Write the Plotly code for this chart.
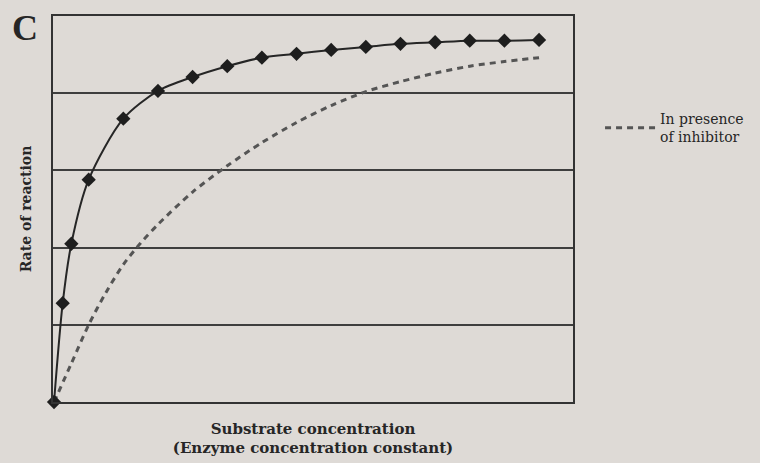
import plotly.graph_objects as go

# Substrate concentration (arbitrary units) and rates
substrate = [0, 0.25, 0.5, 1, 2, 3, 4, 5, 6, 7, 8, 9, 10, 11, 12, 13, 14]
rate = [0, 1.28, 2.05, 2.88, 3.67, 4.03, 4.21, 4.35, 4.46, 4.51, 4.56, 4.60, 4.64, 4.66, 4.68, 4.68, 4.69]

substrate_inh = [0, 0.5, 1, 1.5, 2, 2.5, 3, 4, 5, 6, 7, 8, 9, 10, 11, 12, 13, 14]
rate_inh = [0, 0.50, 1.0, 1.42, 1.78, 2.06, 2.30, 2.72, 3.06, 3.36, 3.62, 3.84, 4.02, 4.15, 4.26, 4.35, 4.41, 4.46]

gridlines = [1, 2, 3, 4]

BG = "#dedad6"
INK = "#262626"
SERIF = "DejaVu Serif, Liberation Serif, serif"

fig = go.Figure()

fig.add_trace(go.Scatter(
    x=substrate_inh, y=rate_inh, mode="lines",
    line=dict(color="#555555", width=3, dash="6px,5px", shape="spline", smoothing=0.8),
    name="In presence<br>of inhibitor", showlegend=True, cliponaxis=False,
))

fig.add_trace(go.Scatter(
    x=substrate, y=rate, mode="lines+markers",
    line=dict(color=INK, width=2, shape="spline", smoothing=0.8),
    marker=dict(symbol="diamond", size=11, color="#1e1e1e"),
    name="No inhibitor", showlegend=False, cliponaxis=False,
))

fig.update_layout(
    width=760, height=463,
    margin=dict(l=53, r=186, t=16, b=61),
    paper_bgcolor=BG, plot_bgcolor=BG,
    font=dict(family=SERIF, color=INK, size=13),
    showlegend=True,
    legend=dict(
        x=1.05, y=0.71, xanchor="left", yanchor="middle",
        bgcolor="rgba(0,0,0,0)", borderwidth=0,
        font=dict(family=SERIF, size=14, color=INK),
        itemwidth=50,
    ),
    xaxis=dict(
        range=[-0.03, 14.98], showgrid=False, zeroline=False,
        showticklabels=False, ticks="",
        showline=True, linecolor="#333333", linewidth=2, mirror=True,
        title=dict(text="<b>Substrate concentration<br>(Enzyme concentration constant)</b>",
                   font=dict(family=SERIF, size=15, color=INK), standoff=20),
    ),
    yaxis=dict(
        range=[0, 5], tickvals=gridlines, showgrid=True,
        gridcolor="#3e3e3e", gridwidth=2, zeroline=False,
        showticklabels=False, ticks="",
        showline=True, linecolor="#333333", linewidth=2, mirror=True,
        title=dict(text="<b>Rate of reaction</b>",
                   font=dict(family=SERIF, size=14, color=INK), standoff=16),
    ),
)

fig.add_annotation(
    text="<b>C</b>", xref="paper", yref="paper",
    x=-0.054, y=0.97, xanchor="center", yanchor="middle",
    showarrow=False, font=dict(family="Liberation Serif, serif", size=36, color=INK),
)

fig.write_html("out.html", config={"displayModeBar": False},
               post_script="document.body.style.margin='0';")
